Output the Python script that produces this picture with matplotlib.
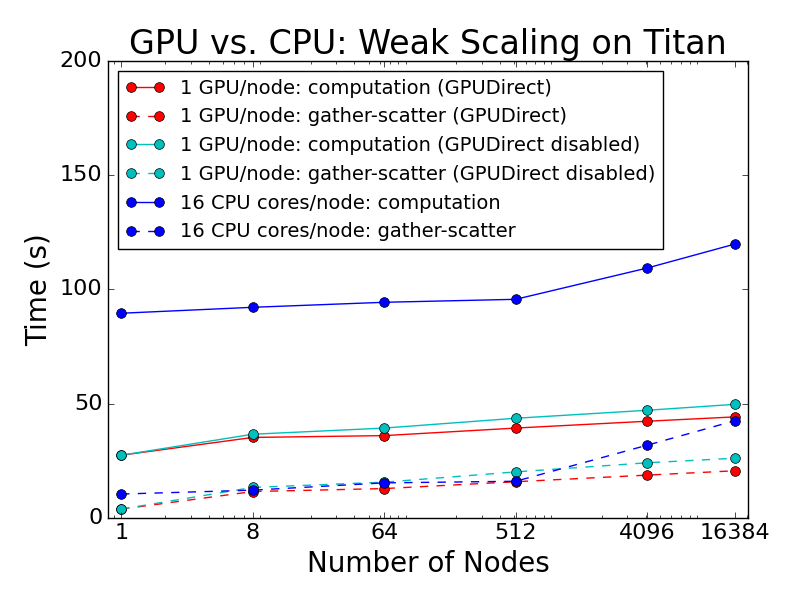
import numpy as np
import matplotlib
matplotlib.use("Agg")
import matplotlib.pyplot as plt
from matplotlib.ticker import FixedLocator, FixedFormatter, LogLocator, NullFormatter

plt.style.use('classic')

nodes = [1, 8, 64, 512, 4096, 16384]
gpu_comp_direct = [27.4, 35.2, 36.0, 39.3, 42.3, 44.2]
gpu_gs_direct = [3.8, 11.5, 12.8, 15.8, 18.7, 20.6]
gpu_comp_nodirect = [27.4, 36.6, 39.3, 43.6, 47.1, 49.7]
gpu_gs_nodirect = [3.8, 13.3, 15.6, 20.1, 24.1, 26.1]
cpu_comp = [89.6, 92.2, 94.4, 95.7, 109.4, 119.9]
cpu_gs = [10.4, 12.1, 15.3, 16.0, 31.8, 42.5]

labels = [
    "1 GPU/node: computation (GPUDirect)",
    "1 GPU/node: gather-scatter (GPUDirect)",
    "1 GPU/node: computation (GPUDirect disabled)",
    "1 GPU/node: gather-scatter (GPUDirect disabled)",
    "16 CPU cores/node: computation",
    "16 CPU cores/node: gather-scatter",
]
series = [gpu_comp_direct, gpu_gs_direct, gpu_comp_nodirect, gpu_gs_nodirect, cpu_comp, cpu_gs]
colors = ['r', 'r', 'c', 'c', 'b', 'b']
styles = ['-', '--', '-', '--', '-', '--']
tick_labels = ['1', '8', '64', '512', '4096', '16384']

fig = plt.figure(figsize=(8, 6), dpi=100)
fig.patch.set_facecolor('white')
ax = fig.add_axes([0.135, 0.137, 0.800, 0.761])

for y, c, ls, lab in zip(series, colors, styles, labels):
    ax.plot(nodes, y, color=c, linestyle=ls, marker='o', markersize=7,
            linewidth=1, label=lab)

ax.set_xscale('log')
ax.set_xlim(2 ** -0.3, 2 ** 14.3)
ax.set_ylim(0, 200)
ax.xaxis.set_major_locator(FixedLocator(nodes))
ax.xaxis.set_major_formatter(FixedFormatter(tick_labels))
ax.xaxis.set_minor_locator(LogLocator(base=10, subs=np.arange(2, 10), numticks=50))
ax.xaxis.set_minor_formatter(NullFormatter())
ax.set_yticks([0, 50, 100, 150, 200])
ax.tick_params(axis='both', which='major', labelsize=16)

ax.set_title("GPU vs. CPU: Weak Scaling on Titan", fontsize=24)
ax.set_xlabel("Number of Nodes", fontsize=20)
ax.set_ylabel("Time (s)", fontsize=20)

ax.legend(loc='upper left', fontsize=14, numpoints=2)

fig.savefig("out.png", dpi=100, facecolor='white')
